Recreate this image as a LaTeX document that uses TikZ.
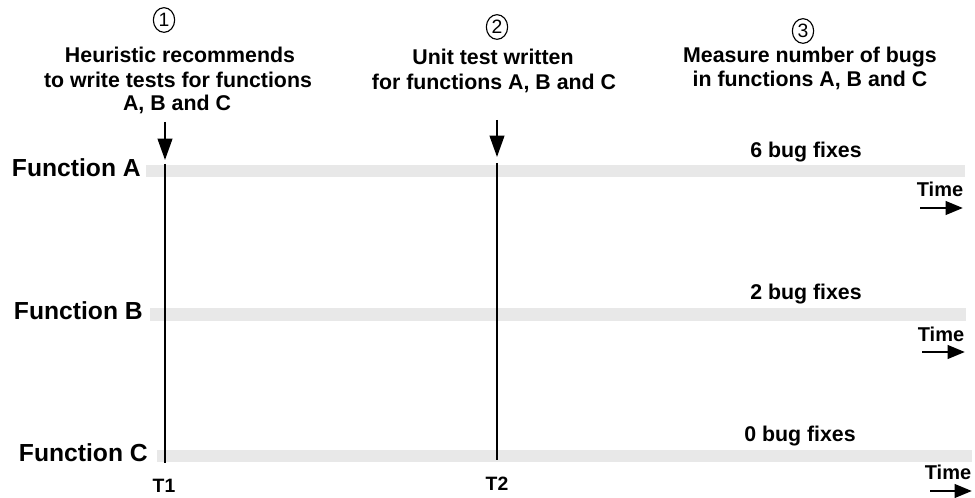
\documentclass[tikz,border=0pt]{standalone}
\usepackage{fontspec}
\setmainfont{Liberation Sans}
\usetikzlibrary{arrows.meta,shapes.geometric}
\definecolor{barcol}{HTML}{E8E8E8}
\tikzset{
  lbl/.style={font=\bfseries\fontsize{18.5}{20}\selectfont, inner sep=0pt, anchor=base east},
  head/.style={font=\bfseries\fontsize{16}{18}\selectfont, inner sep=0pt, anchor=base},
  fix/.style={font=\bfseries\fontsize{16}{18}\selectfont, inner sep=0pt, anchor=base},
  timelbl/.style={font=\bfseries\fontsize{15}{17}\selectfont, inner sep=0pt, anchor=base},
  tlbl/.style={font=\bfseries\fontsize{14.5}{16}\selectfont, inner sep=0pt, anchor=base},
  num/.style={draw, ellipse, line width=0.85pt, minimum width=16pt, minimum height=18.5pt, inner sep=0pt, font=\fontsize{14.5}{16}\selectfont},
  bar/.style={fill=barcol, draw=none},
  vline/.style={line width=1.9pt},
  downarrow/.style={line width=1.5pt, -{Triangle[length=16pt,width=11pt]}},
  timearrow/.style={line width=2.2pt, -{Triangle[length=13pt,width=10pt]}}
}
\begin{document}
\begin{tikzpicture}[x=0.75pt,y=-0.75pt]
\useasboundingbox (0,0) rectangle (975,498);
% bars
\fill[bar] (146,165) rectangle (965,177);
\fill[bar] (150,308) rectangle (966,321);
\fill[bar] (157,450) rectangle (972,462);
% function labels
\node[lbl] (fa) at (141,177) {Function A};
\node[lbl] (fb) at (143,320) {Function B};
\node[lbl] (fc) at (148,462) {Function C};
% circled numbers
\node[num] (n1) at (164,20) {1};
\node[num] (n2) at (497,27) {2};
\node[num] (n3) at (803,31) {3};
% headers
\node[head] (h1a) at (180,63) {Heuristic recommends};
\node[head] (h1b) at (178,88) {to write tests for functions};
\node[head] (h1c) at (177,111) {A, B and C};
\node[head] (h2a) at (493,65) {Unit test written};
\node[head] (h2b) at (494,90) {for functions A, B and C};
\node[head] (h3a) at (810,63) {Measure number of bugs};
\node[head] (h3b) at (810,87) {in functions A, B and C};
% down arrows
\coordinate (a1s) at (165,122);
\coordinate (a1e) at (165,160);
\coordinate (a2s) at (497,120);
\coordinate (a2e) at (497,157);
\draw[downarrow] (a1s) -- (a1e);
\draw[downarrow] (a2s) -- (a2e);
% vertical lines
\coordinate (t1top) at (165,164);
\coordinate (t1bot) at (165,463);
\coordinate (t2top) at (497,163);
\coordinate (t2bot) at (497,460);
\draw[vline] (t1top) -- (t1bot);
\draw[vline] (t2top) -- (t2bot);
\node[tlbl] (t1) at (164,493) {T1};
\node[tlbl] (t2) at (497,491) {T2};
% bug fixes
\node[fix] (ba) at (806,158) {6 bug fixes};
\node[fix] (bb) at (806,300) {2 bug fixes};
\node[fix] (bc) at (800,442) {0 bug fixes};
% time labels and arrows
\node[timelbl] (tia) at (940,197) {Time};
\node[timelbl] (tib) at (941,342) {Time};
\node[timelbl] (tic) at (948,480) {Time};
\coordinate (taS) at (920,208);
\coordinate (taE) at (963,208);
\coordinate (tbS) at (922,352);
\coordinate (tbE) at (965,352);
\coordinate (tcS) at (930,491);
\coordinate (tcE) at (972,491);
\draw[timearrow] (taS) -- (taE);
\draw[timearrow] (tbS) -- (tbE);
\draw[timearrow] (tcS) -- (tcE);
\end{tikzpicture}
\end{document}
